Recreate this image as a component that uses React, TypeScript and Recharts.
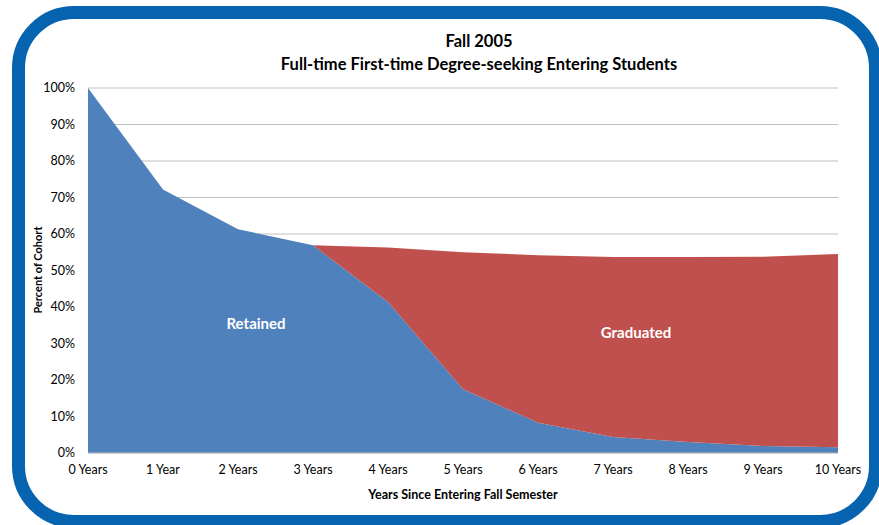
import React from "react";
import { AreaChart, Area, XAxis, YAxis, CartesianGrid } from "recharts";

const years = ["0 Years", "1 Year", "2 Years", "3 Years", "4 Years", "5 Years", "6 Years", "7 Years", "8 Years", "9 Years", "10 Years"];
const retained = [100, 72.2, 61.3, 56.9, 41.4, 17.5, 8.3, 4.4, 3.0, 1.9, 1.6];
const graduated = [0, 0, 0, 0, 14.9, 37.5, 45.9, 49.3, 50.7, 51.9, 52.9];
const yTicks = [0, 10, 20, 30, 40, 50, 60, 70, 80, 90, 100];

const data = years.map((y, i) => ({ year: y, retained: retained[i], graduated: graduated[i] }));

const FONT = "Lato, 'Open Sans', sans-serif";

export default function App() {
  return (
    <div style={{ position: "absolute", left: 0, top: 0, width: 879, height: 525, overflow: "hidden", background: "#fff", fontFamily: FONT }}>
      <div style={{ position: "absolute", left: 12, top: 6, width: 870 - 26, height: 522 - 26, border: "13px solid #0563B0", borderRadius: 62 }} />
      <div style={{ position: "absolute", left: 0, width: 958, top: 30, textAlign: "center", fontWeight: 700, fontSize: 16.5, lineHeight: "23px", color: "#000" }}>
        Fall 2005<br />Full-time First-time Degree-seeking Entering Students
      </div>
      <div style={{ position: "absolute", left: 0, top: 0 }}>
        <AreaChart width={879} height={525} data={data} margin={{ top: 88, right: 41, bottom: 42, left: 0 }}>
          <CartesianGrid vertical={false} stroke="#BFBFBF" strokeWidth={1} />
          <XAxis dataKey="year" height={30} tickSize={0} tickMargin={12} axisLine={{ stroke: "#BFBFBF" }} tick={{ fill: "#000", fontSize: 12.5, fontFamily: FONT }} interval={0} />
          <YAxis width={88} domain={[0, 100]} ticks={yTicks} tickFormatter={(v: number) => `${v}%`} tickSize={0} tickMargin={13} axisLine={false} tick={{ fill: "#000", fontSize: 12.5, fontFamily: FONT }} />
          <Area type="linear" dataKey="retained" stackId="a" stroke="none" fill="#4F81BD" fillOpacity={1} isAnimationActive={false} />
          <Area type="linear" dataKey="graduated" stackId="a" stroke="none" fill="#C0504D" fillOpacity={1} isAnimationActive={false} />
        </AreaChart>
      </div>
      <div style={{ position: "absolute", left: 37, top: 270, transform: "translate(-50%, -50%) rotate(-90deg)", fontWeight: 700, fontSize: 11, whiteSpace: "nowrap" }}>Percent of Cohort</div>
      <div style={{ position: "absolute", left: 463, top: 494, transform: "translate(-50%, -50%)", fontWeight: 700, fontSize: 12.5, whiteSpace: "nowrap" }}>Years Since Entering Fall Semester</div>
      <div style={{ position: "absolute", left: 256, top: 323, transform: "translate(-50%, -50%)", fontWeight: 700, fontSize: 15, color: "#fff", whiteSpace: "nowrap" }}>Retained</div>
      <div style={{ position: "absolute", left: 636, top: 332, transform: "translate(-50%, -50%)", fontWeight: 700, fontSize: 15, color: "#fff", whiteSpace: "nowrap" }}>Graduated</div>
    </div>
  );
}
